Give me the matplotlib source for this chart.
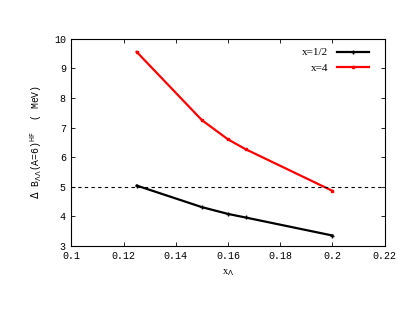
import matplotlib.pyplot as plt

# data
x_lam = [0.125, 0.15, 0.16, 0.1667, 0.2]
dB_half = [5.04, 4.31, 4.08, 3.96, 3.35]
dB_four = [9.56, 7.25, 6.60, 6.27, 4.86]
ref_level = 5.0

xticks = [0.1, 0.12, 0.14, 0.16, 0.18, 0.2, 0.22]
xtick_labels = ["0.1", "0.12", "0.14", "0.16", "0.18", "0.2", "0.22"]
yticks = [3, 4, 5, 6, 7, 8, 9, 10]

mono = "Liberation Mono"
serif = "Liberation Serif"

fig = plt.figure(figsize=(4.15, 3.21), dpi=100)
ax = fig.add_axes([0.172, 0.234, 0.755, 0.645])

ax.plot(x_lam, dB_half, color="black", lw=1.6, marker="+", ms=3, mew=1.0, label="x=1/2")
ax.plot(x_lam, dB_four, color="red", lw=1.6, marker="s", ms=2.0, label="x=4")
ax.axhline(ref_level, color="black", lw=0.8, ls=(0, (3, 3)))

ax.set_xlim(0.1, 0.22)
ax.set_ylim(3, 10)
ax.set_xticks(xticks)
ax.set_xticklabels(xtick_labels, family=mono, fontsize=7.2)
ax.set_yticks(yticks)
ax.set_yticklabels([str(v) for v in yticks], family=mono, fontsize=7.2)
ax.tick_params(direction="in", length=3, width=0.6, top=True, right=True, pad=4)
for s in ax.spines.values():
    s.set_linewidth(0.8)

ax.set_xlabel(r"x$_\Lambda$", family=serif, fontsize=7.5)
ax.set_ylabel(r"$\Delta$ B$_{\Lambda\Lambda}$(A=6)$^{\rm HF}$  ( MeV)", family=mono, fontsize=7, labelpad=7)

leg = ax.legend(loc="upper right", bbox_to_anchor=(0.975, 0.995), frameon=False, markerfirst=False,
                prop={"family": serif, "size": 8}, handlelength=2.9, handletextpad=0.8,
                borderaxespad=0.3, labelspacing=0.55)

fig.savefig("out.png", dpi=100)
